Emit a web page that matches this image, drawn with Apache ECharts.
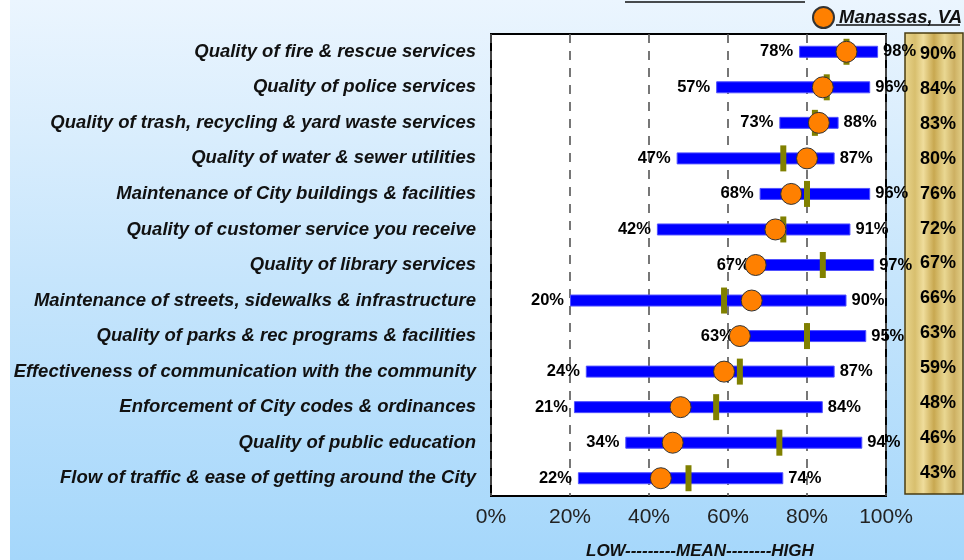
<!DOCTYPE html>
<html>
<head>
<meta charset="utf-8">
<script src="https://cdn.jsdelivr.net/npm/echarts@6/dist/echarts.min.js"></script>
<style>
    html, body { margin: 0; padding: 0; background: #fff; }
    #chart {
        width: 964px; height: 560px;
        background: #fff linear-gradient(to bottom, #ebf5fe, #c6e5fc 50%, #a5d7fb) no-repeat 10px 0 / 954px 560px;
    }
</style>
</head>
<body>
<div id="chart"></div>
<script>
    // survey items, top to bottom
    const categories = [
        'Quality of fire & rescue services',
        'Quality of police services',
        'Quality of trash, recycling & yard waste services',
        'Quality of water & sewer utilities',
        'Maintenance of City buildings & facilities',
        'Quality of customer service you receive',
        'Quality of library services',
        'Maintenance of streets, sidewalks & infrastructure',
        'Quality of parks & rec programs & facilities',
        'Effectiveness of communication with the community',
        'Enforcement of City codes & ordinances',
        'Quality of public education',
        'Flow of traffic & ease of getting around the City'
    ];
    const lowValues = [78, 57, 73, 47, 68, 42, 67, 20, 63, 24, 21, 34, 22];
    const highValues = [98, 96, 88, 87, 96, 91, 97, 90, 95, 87, 84, 94, 74];
    const meanValues = [90, 85, 82, 74, 80, 74, 84, 59, 80, 63, 57, 73, 50];
    const manassasValues = [90, 84, 83, 80, 76, 72, 67, 66, 63, 59, 48, 46, 43];
    const xTicks = [0, 20, 40, 60, 80, 100];

    let chart = echarts.init(document.getElementById('chart'));

    const pctLabel = {
        color: '#000',
        textBorderWidth: 0,
        fontFamily: 'Liberation Sans, Arial, sans-serif',
        fontWeight: 'bold',
        fontSize: 16.5
    };

    let option = {
        animation: false,
        legend: {
            data: ['Manassas, VA'],
            left: 807,
            top: 1,
            icon: 'circle',
            itemWidth: 21,
            itemHeight: 21,
            itemGap: 4,
            textStyle: {
                color: '#111',
                fontFamily: 'Liberation Sans, Arial, sans-serif',
                fontWeight: 'bold',
                fontStyle: 'italic',
                fontSize: 18.5
            }
        },
        grid: [
            {
                left: 491, right: 78, top: 34, bottom: 64,
                show: true,
                backgroundColor: '#fff',
                borderColor: '#000',
                borderWidth: 2
            },
            {
                left: 912, right: 0, top: 37, bottom: 70
            }
        ],
        xAxis: [
            {
                type: 'value',
                gridIndex: 0,
                min: xTicks[0],
                max: xTicks[xTicks.length - 1],
                interval: 20,
                axisLine: { show: false },
                axisTick: { show: false },
                axisLabel: {
                    formatter: '{value}%',
                    margin: 11,
                    color: '#222',
                    fontFamily: 'Liberation Sans, Arial, sans-serif',
                    fontSize: 21
                },
                splitLine: {
                    show: true,
                    lineStyle: { color: '#555', width: 1.6, type: [9, 8] }
                }
            },
            {
                type: 'value', gridIndex: 1, min: 0, max: 1, show: false
            }
        ],
        yAxis: [
            {
                type: 'category',
                gridIndex: 0,
                data: categories,
                inverse: true,
                axisLine: { show: false },
                axisTick: { show: false },
                axisLabel: {
                    margin: 15,
                    color: '#111',
                    fontFamily: 'Liberation Sans, Arial, sans-serif',
                    fontWeight: 'bold',
                    fontStyle: 'italic',
                    fontSize: 18.5
                }
            },
            {
                type: 'category', gridIndex: 1, data: categories, inverse: true, show: false
            }
        ],
        graphic: [
            {
                type: 'rect',
                z: -1,
                shape: { x: 905, y: 33, width: 58, height: 461 },
                style: {
                    fill: new echarts.graphic.LinearGradient(0, 0, 1, 0, [
                        { offset: 0, color: '#e9d68f' },
                        { offset: 0.18, color: '#d8bf6e' },
                        { offset: 0.32, color: '#efdd9c' },
                        { offset: 0.5, color: '#c8a850' },
                        { offset: 0.68, color: '#e9d792' },
                        { offset: 0.84, color: '#cdb062' },
                        { offset: 1, color: '#e6d48e' }
                    ]),
                    stroke: '#4a3c10',
                    lineWidth: 1.5
                }
            },
            {
                type: 'line',
                shape: { x1: 836, y1: 25, x2: 960, y2: 25 },
                style: { stroke: '#111', lineWidth: 1.5 }
            },
            {
                type: 'line',
                shape: { x1: 625, y1: 2, x2: 805, y2: 2 },
                style: { stroke: '#111', lineWidth: 1.5 }
            },
            {
                type: 'text',
                left: 586,
                top: 543,
                style: {
                    text: 'LOW---------MEAN--------HIGH',
                    fill: '#111',
                    font: 'italic bold 17px "Liberation Sans", Arial, sans-serif'
                }
            }
        ],
        series: [
            {
                name: 'low',
                type: 'bar',
                stack: 'range',
                data: lowValues,
                barWidth: 12,
                itemStyle: { color: 'rgba(0,0,0,0)' },
                silent: true,
                z: 2,
                label: Object.assign({
                    show: true,
                    position: 'insideRight',
                    distance: 6,
                    formatter: p => lowValues[p.dataIndex] + '%'
                }, pctLabel)
            },
            {
                name: 'range',
                type: 'bar',
                stack: 'range',
                data: highValues.map((h, i) => h - lowValues[i]),
                barWidth: 12,
                itemStyle: { color: '#0000ff', borderColor: '#5050ff', borderWidth: 1 },
                z: 2,
                label: Object.assign({
                    show: true,
                    position: 'right',
                    distance: 5,
                    formatter: p => highValues[p.dataIndex] + '%'
                }, pctLabel)
            },
            {
                name: 'Mean',
                type: 'scatter',
                data: meanValues.map((v, i) => [v, i]),
                symbol: 'rect',
                symbolSize: [6, 26],
                itemStyle: { color: '#808000', opacity: 1 },
                z: 4
            },
            {
                name: 'Manassas, VA',
                type: 'scatter',
                data: manassasValues.map((v, i) => [v, i]),
                symbol: 'circle',
                symbolSize: 21,
                itemStyle: { color: '#ff8000', borderColor: '#333', borderWidth: 1, opacity: 1 },
                z: 5
            },
            {
                name: 'Manassas column',
                type: 'scatter',
                xAxisIndex: 1,
                yAxisIndex: 1,
                data: manassasValues.map((v, i) => [0.5, i, v]),
                symbolSize: 0,
                silent: true,
                itemStyle: { opacity: 1 },
                z: 6,
                label: Object.assign({}, pctLabel, {
                    show: true,
                    position: 'inside',
                    fontSize: 18,
                    opacity: 1,
                    formatter: p => p.value[2] + '%'
                })
            }
        ]
    };
    chart.setOption(option);
    window.addEventListener('resize', function () {
        chart.resize();
    });
</script>
</body>
</html>
